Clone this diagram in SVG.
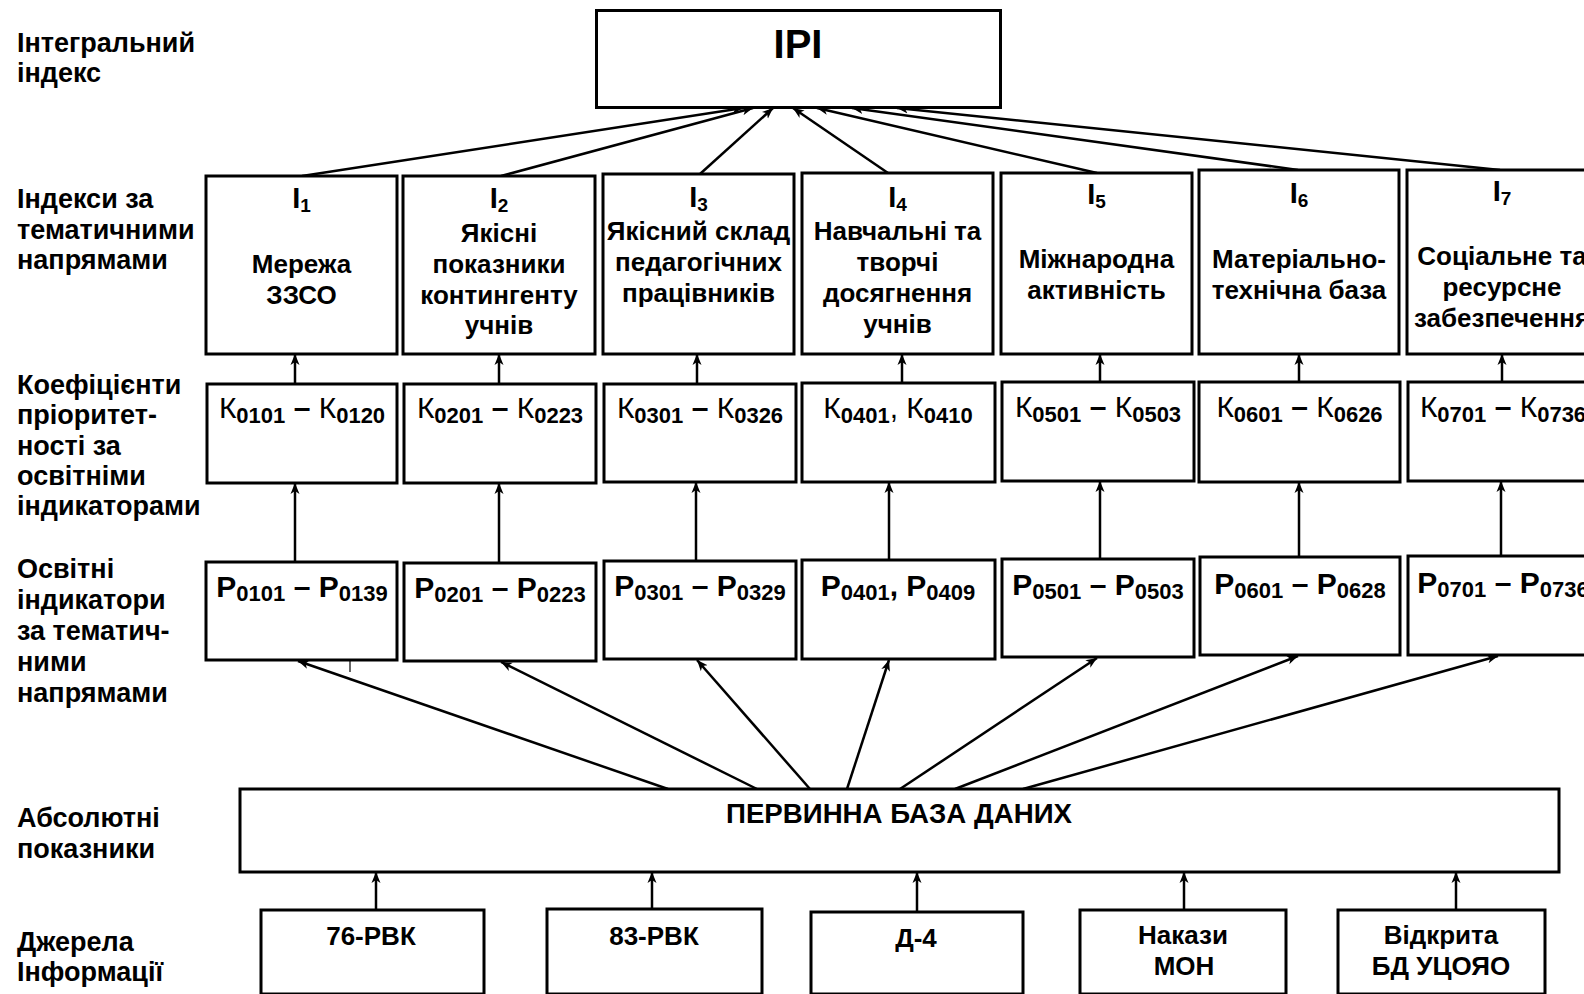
<svg xmlns="http://www.w3.org/2000/svg" width="1584" height="994" viewBox="0 0 1584 994">
  <defs>
    <marker id="arrow" markerUnits="userSpaceOnUse" markerWidth="12" markerHeight="10" refX="11" refY="5" orient="auto">
      <path d="M0,0.5 L11,5 L0,9.5 L3,5 Z" fill="#000"/>
    </marker>
  </defs>
  <style>
    text { font-family: "Liberation Sans", Arial, sans-serif; fill: #000; }
    .lbl { font-size: 27px; font-weight: bold; }
    .box { fill: #fff; stroke: #000; stroke-width: 3; }
    .t { font-size: 26px; font-weight: bold; text-anchor: middle; }
    .idx { font-size: 29px; font-weight: bold; text-anchor: middle; }
    .isub { font-size: 19px; }
    .kp { font-size: 30px; text-anchor: middle; }
    .k { font-weight: normal; }
    .p { font-weight: bold; }
    .sub { font-size: 22px; font-weight: bold; }
    .dash { font-weight: bold; }
    .src { font-size: 26px; font-weight: bold; text-anchor: middle; }
    .conn line { stroke: #000; stroke-width: 2.5; marker-end: url(#arrow); }
  </style>

  <rect width="1584" height="994" fill="#fff"/>

  <!-- level captions on the left -->
  <g id="captions">
    <text class="lbl" x="17" y="52">Інтегральний</text>
    <text class="lbl" x="17" y="82">індекс</text>
    <text class="lbl" x="17" y="208">Індекси за</text>
    <text class="lbl" x="17" y="239">тематичними</text>
    <text class="lbl" x="17" y="269">напрямами</text>
    <text class="lbl" x="17" y="394">Коефіцієнти</text>
    <text class="lbl" x="17" y="424">пріоритет-</text>
    <text class="lbl" x="17" y="455">ності за</text>
    <text class="lbl" x="17" y="485">освітніми</text>
    <text class="lbl" x="17" y="515">індикаторами</text>
    <text class="lbl" x="17" y="578">Освітні</text>
    <text class="lbl" x="17" y="609">індикатори</text>
    <text class="lbl" x="17" y="640">за тематич-</text>
    <text class="lbl" x="17" y="671">ними</text>
    <text class="lbl" x="17" y="702">напрямами</text>
    <text class="lbl" x="17" y="827">Абсолютні</text>
    <text class="lbl" x="17" y="858">показники</text>
    <text class="lbl" x="17" y="951">Джерела</text>
    <text class="lbl" x="17" y="981">Інформації</text>
  </g>

  <!-- connectors -->
  <g id="connectors" class="conn">
    <!-- thematic indices to IPI -->
    <line x1="302" y1="176" x2="743" y2="108"/>
    <line x1="501" y1="176" x2="753" y2="108"/>
    <line x1="700" y1="174" x2="773" y2="108"/>
    <line x1="888" y1="173" x2="793" y2="108"/>
    <line x1="1097" y1="173" x2="817" y2="108"/>
    <line x1="1298" y1="170" x2="852" y2="108"/>
    <line x1="1500" y1="170" x2="897" y2="108"/>
    <!-- coefficients to indices -->
    <line x1="295" y1="384" x2="295" y2="354"/>
    <line x1="499" y1="384" x2="499" y2="354"/>
    <line x1="697" y1="384" x2="697" y2="354"/>
    <line x1="902" y1="383" x2="902" y2="354"/>
    <line x1="1100" y1="382" x2="1100" y2="354"/>
    <line x1="1299" y1="382" x2="1299" y2="354"/>
    <line x1="1502" y1="382" x2="1502" y2="354"/>
    <!-- indicators to coefficients -->
    <line x1="295" y1="562" x2="295" y2="483"/>
    <line x1="499" y1="563" x2="499" y2="483"/>
    <line x1="696" y1="561" x2="696" y2="482"/>
    <line x1="889" y1="560" x2="889" y2="482"/>
    <line x1="1100" y1="559" x2="1100" y2="481"/>
    <line x1="1299" y1="557" x2="1299" y2="482"/>
    <line x1="1501" y1="556" x2="1501" y2="481"/>
    <!-- primary database to indicators -->
    <line x1="668" y1="789" x2="298" y2="661"/>
    <line x1="757" y1="789" x2="501" y2="662"/>
    <line x1="810" y1="789" x2="697" y2="660"/>
    <line x1="847" y1="789" x2="889" y2="660"/>
    <line x1="900" y1="789" x2="1097" y2="658"/>
    <line x1="955" y1="789" x2="1298" y2="656"/>
    <line x1="1023" y1="789" x2="1498" y2="656"/>
    <!-- sources to primary database -->
    <line x1="376" y1="910" x2="376" y2="872"/>
    <line x1="652" y1="909" x2="652" y2="872"/>
    <line x1="917" y1="912" x2="917" y2="872"/>
    <line x1="1184" y1="910" x2="1184" y2="872"/>
    <line x1="1456" y1="910" x2="1456" y2="872"/>
  </g>
  <line x1="350" y1="661" x2="350" y2="672" stroke="#000" stroke-width="1.2"/>

  <!-- integral index -->
  <g id="ipi">
    <rect class="box" x="596.5" y="10.5" width="404" height="97"/>
    <text x="798" y="58" font-size="40" font-weight="bold" text-anchor="middle">IPI</text>
  </g>

  <!-- thematic indices -->
  <g id="i1">
    <rect class="box" x="206" y="176" width="191" height="178"/>
    <text class="idx" x="301.5" y="208">I<tspan class="isub" dy="4">1</tspan></text>
    <text class="t" x="301.5" y="273">Мережа</text>
    <text class="t" x="301.5" y="304">ЗЗСО</text>
  </g>
  <g id="i2">
    <rect class="box" x="403" y="176" width="192" height="178"/>
    <text class="idx" x="499" y="208">I<tspan class="isub" dy="4">2</tspan></text>
    <text class="t" x="499" y="242">Якісні</text>
    <text class="t" x="499" y="273">показники</text>
    <text class="t" x="499" y="304">контингенту</text>
    <text class="t" x="499" y="334">учнів</text>
  </g>
  <g id="i3">
    <rect class="box" x="603" y="174" width="191" height="180"/>
    <text class="idx" x="698.5" y="207">I<tspan class="isub" dy="4">3</tspan></text>
    <text class="t" x="698.5" y="240">Якісний склад</text>
    <text class="t" x="698.5" y="271">педагогічних</text>
    <text class="t" x="698.5" y="302">працівників</text>
  </g>
  <g id="i4">
    <rect class="box" x="802" y="173" width="191" height="181"/>
    <text class="idx" x="897.5" y="207">I<tspan class="isub" dy="4">4</tspan></text>
    <text class="t" x="897.5" y="240">Навчальні та</text>
    <text class="t" x="897.5" y="271">творчі</text>
    <text class="t" x="897.5" y="302">досягнення</text>
    <text class="t" x="897.5" y="333">учнів</text>
  </g>
  <g id="i5">
    <rect class="box" x="1001" y="173" width="191" height="181"/>
    <text class="idx" x="1096.5" y="204">I<tspan class="isub" dy="4">5</tspan></text>
    <text class="t" x="1096.5" y="268">Міжнародна</text>
    <text class="t" x="1096.5" y="299">активність</text>
  </g>
  <g id="i6">
    <rect class="box" x="1199" y="170" width="200" height="184"/>
    <text class="idx" x="1299" y="203">I<tspan class="isub" dy="4">6</tspan></text>
    <text class="t" x="1299" y="268">Матеріально-</text>
    <text class="t" x="1299" y="299">технічна база</text>
  </g>
  <g id="i7">
    <rect class="box" x="1407" y="170" width="190" height="184"/>
    <text class="idx" x="1502" y="201">I<tspan class="isub" dy="4">7</tspan></text>
    <text class="t" x="1502" y="265">Соціальне та</text>
    <text class="t" x="1502" y="296">ресурсне</text>
    <text class="t" x="1502" y="327">забезпечення</text>
  </g>

  <!-- priority coefficients -->
  <g id="k1">
    <rect class="box" x="207" y="384" width="190" height="99"/>
    <text class="kp k" x="302" y="418">К<tspan class="sub" dy="5">0101</tspan><tspan class="dash" dy="-5"> – </tspan>К<tspan class="sub" dy="5">0120</tspan></text>
  </g>
  <g id="k2">
    <rect class="box" x="404" y="384" width="192" height="99"/>
    <text class="kp k" x="500" y="418">К<tspan class="sub" dy="5">0201</tspan><tspan class="dash" dy="-5"> – </tspan>К<tspan class="sub" dy="5">0223</tspan></text>
  </g>
  <g id="k3">
    <rect class="box" x="604" y="384" width="192" height="98"/>
    <text class="kp k" x="700" y="418">К<tspan class="sub" dy="5">0301</tspan><tspan class="dash" dy="-5"> – </tspan>К<tspan class="sub" dy="5">0326</tspan></text>
  </g>
  <g id="k4">
    <rect class="box" x="802" y="383" width="193" height="99"/>
    <text class="kp k" x="898" y="418">К<tspan class="sub" dy="5">0401</tspan><tspan dy="-5">,  К</tspan><tspan class="sub" dy="5">0410</tspan></text>
  </g>
  <g id="k5">
    <rect class="box" x="1002" y="382" width="192" height="99"/>
    <text class="kp k" x="1098" y="417">К<tspan class="sub" dy="5">0501</tspan><tspan class="dash" dy="-5"> – </tspan>К<tspan class="sub" dy="5">0503</tspan></text>
  </g>
  <g id="k6">
    <rect class="box" x="1199" y="382" width="201" height="100"/>
    <text class="kp k" x="1299.5" y="417">К<tspan class="sub" dy="5">0601</tspan><tspan class="dash" dy="-5"> – </tspan>К<tspan class="sub" dy="5">0626</tspan></text>
  </g>
  <g id="k7">
    <rect class="box" x="1408" y="382" width="190" height="99"/>
    <text class="kp k" x="1503" y="417">К<tspan class="sub" dy="5">0701</tspan><tspan class="dash" dy="-5"> – </tspan>К<tspan class="sub" dy="5">0736</tspan></text>
  </g>

  <!-- educational indicators -->
  <g id="p1">
    <rect class="box" x="206" y="562" width="191" height="98"/>
    <text class="kp p" x="302" y="597">Р<tspan class="sub" dy="4">0101</tspan><tspan dy="-4"> – Р</tspan><tspan class="sub" dy="4">0139</tspan></text>
  </g>
  <g id="p2">
    <rect class="box" x="404" y="563" width="192" height="98"/>
    <text class="kp p" x="500" y="598">Р<tspan class="sub" dy="4">0201</tspan><tspan dy="-4"> – Р</tspan><tspan class="sub" dy="4">0223</tspan></text>
  </g>
  <g id="p3">
    <rect class="box" x="604" y="561" width="192" height="98"/>
    <text class="kp p" x="700" y="596">Р<tspan class="sub" dy="4">0301</tspan><tspan dy="-4"> – Р</tspan><tspan class="sub" dy="4">0329</tspan></text>
  </g>
  <g id="p4">
    <rect class="box" x="802" y="560" width="193" height="99"/>
    <text class="kp p" x="898" y="596">Р<tspan class="sub" dy="4">0401</tspan><tspan dy="-4">,  Р</tspan><tspan class="sub" dy="4">0409</tspan></text>
  </g>
  <g id="p5">
    <rect class="box" x="1002" y="559" width="192" height="98"/>
    <text class="kp p" x="1098" y="595">Р<tspan class="sub" dy="4">0501</tspan><tspan dy="-4"> – Р</tspan><tspan class="sub" dy="4">0503</tspan></text>
  </g>
  <g id="p6">
    <rect class="box" x="1200" y="557" width="200" height="98"/>
    <text class="kp p" x="1300" y="594">Р<tspan class="sub" dy="4">0601</tspan><tspan dy="-4"> – Р</tspan><tspan class="sub" dy="4">0628</tspan></text>
  </g>
  <g id="p7">
    <rect class="box" x="1408" y="556" width="190" height="99"/>
    <text class="kp p" x="1503" y="593">Р<tspan class="sub" dy="4">0701</tspan><tspan dy="-4"> – Р</tspan><tspan class="sub" dy="4">0736</tspan></text>
  </g>

  <!-- primary database -->
  <g id="db">
    <rect class="box" x="240" y="789" width="1319" height="83"/>
    <text x="726" y="823" font-size="27" font-weight="bold" textLength="346" lengthAdjust="spacingAndGlyphs">ПЕРВИННА БАЗА ДАНИХ</text>
  </g>

  <!-- information sources -->
  <g id="s1">
    <rect class="box" x="261" y="910" width="223" height="84"/>
    <text class="src" x="371" y="945">76-РВК</text>
  </g>
  <g id="s2">
    <rect class="box" x="547" y="909" width="215" height="85"/>
    <text class="src" x="654" y="945">83-РВК</text>
  </g>
  <g id="s3">
    <rect class="box" x="811" y="912" width="212" height="82"/>
    <text class="src" x="916" y="947">Д-4</text>
  </g>
  <g id="s4">
    <rect class="box" x="1080" y="910" width="206" height="84"/>
    <text class="src" x="1183" y="944">Накази</text>
    <text class="src" x="1184" y="975">МОН</text>
  </g>
  <g id="s5">
    <rect class="box" x="1338" y="910" width="207" height="84"/>
    <text class="src" x="1441" y="944">Відкрита</text>
    <text class="src" x="1441" y="975">БД УЦОЯО</text>
  </g>
</svg>
